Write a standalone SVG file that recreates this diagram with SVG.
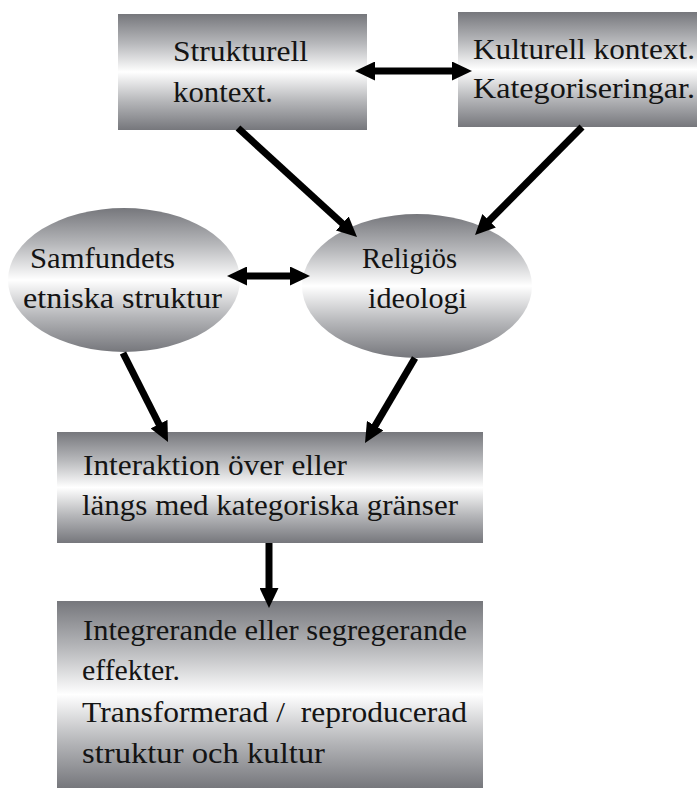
<svg xmlns="http://www.w3.org/2000/svg" width="697" height="788" viewBox="0 0 697 788">
  <defs>
    <linearGradient id="shade" x1="0" y1="0" x2="0" y2="1">
      <stop offset="0" stop-color="#76777c"/>
      <stop offset="0.25" stop-color="#b6b7ba"/>
      <stop offset="0.5" stop-color="#ffffff"/>
      <stop offset="0.75" stop-color="#b6b7ba"/>
      <stop offset="1" stop-color="#76777c"/>
    </linearGradient>
    <marker id="head" viewBox="0 0 20 19" refX="6" refY="9.5" markerWidth="20" markerHeight="19" markerUnits="userSpaceOnUse" orient="auto-start-reverse">
      <path d="M0,0 L20,9.5 L0,19 z" fill="#000"/>
    </marker>
    <style>
      .node { fill: url(#shade); }
      .lbl { font-family: "Liberation Serif", "Noto Serif", Tinos, "Times New Roman", "Nimbus Roman", "FreeSerif", "DejaVu Serif", serif; font-size: 30px; fill: #141414; }
      .arrow { stroke: #000; stroke-width: 7; fill: none; }
      .one { marker-end: url(#head); }
      .two { marker-start: url(#head); marker-end: url(#head); }
    </style>
  </defs>

  <g id="strukturell-kontext">
    <rect class="node" x="118" y="14" width="249" height="116"/>
    <text class="lbl" x="173" y="61" textLength="135" lengthAdjust="spacingAndGlyphs">Strukturell</text>
    <text class="lbl" x="173" y="102" textLength="100" lengthAdjust="spacingAndGlyphs">kontext.</text>
  </g>

  <g id="kulturell-kontext">
    <rect class="node" x="458" y="12" width="239" height="115"/>
    <text class="lbl" x="473" y="59" textLength="222" lengthAdjust="spacingAndGlyphs">Kulturell kontext.</text>
    <text class="lbl" x="473" y="98" textLength="222" lengthAdjust="spacingAndGlyphs">Kategoriseringar.</text>
  </g>

  <g id="samfundets-struktur">
    <ellipse class="node" cx="124" cy="280" rx="116" ry="72"/>
    <text class="lbl" x="30" y="268" textLength="145" lengthAdjust="spacingAndGlyphs">Samfundets</text>
    <text class="lbl" x="23" y="308" textLength="199" lengthAdjust="spacingAndGlyphs">etniska struktur</text>
  </g>

  <g id="religios-ideologi">
    <ellipse class="node" cx="417" cy="286" rx="115" ry="72"/>
    <text class="lbl" x="362" y="268" textLength="95" lengthAdjust="spacingAndGlyphs">Religiös</text>
    <text class="lbl" x="368" y="308" textLength="99" lengthAdjust="spacingAndGlyphs">ideologi</text>
  </g>

  <g id="interaktion">
    <rect class="node" x="57" y="432" width="426" height="111"/>
    <text class="lbl" x="83" y="475" textLength="264" lengthAdjust="spacingAndGlyphs">Interaktion över eller</text>
    <text class="lbl" x="82" y="515" textLength="376" lengthAdjust="spacingAndGlyphs">längs med kategoriska gränser</text>
  </g>

  <g id="effekter">
    <rect class="node" x="57" y="601" width="426" height="187"/>
    <text class="lbl" x="83" y="640" textLength="384" lengthAdjust="spacingAndGlyphs">Integrerande eller segregerande</text>
    <text class="lbl" x="82" y="680" textLength="98" lengthAdjust="spacingAndGlyphs">effekter.</text>
    <text class="lbl" x="82" y="722" textLength="385" lengthAdjust="spacingAndGlyphs" xml:space="preserve">Transformerad /  reproducerad</text>
    <text class="lbl" x="82" y="763" textLength="243" lengthAdjust="spacingAndGlyphs">struktur och kultur</text>
  </g>

  <g id="connectors">
    <line class="arrow two" x1="369" y1="71" x2="458" y2="71"/>
    <line class="arrow one" x1="238" y1="128" x2="346.7" y2="227.5"/>
    <line class="arrow one" x1="582" y1="127" x2="484.9" y2="225"/>
    <line class="arrow two" x1="241" y1="276" x2="296" y2="276"/>
    <line class="arrow one" x1="123" y1="353" x2="161.7" y2="429.5"/>
    <line class="arrow one" x1="415" y1="358" x2="372.1" y2="430.9"/>
    <line class="arrow one" x1="269" y1="543" x2="269" y2="594"/>
  </g>
</svg>
